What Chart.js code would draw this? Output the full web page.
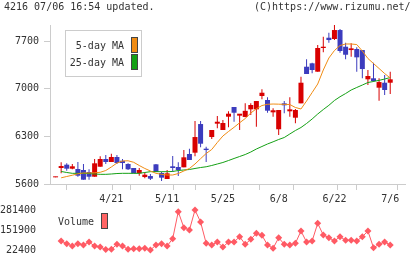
<!DOCTYPE html>
<html>
<head>
<meta charset="utf-8">
<script src="https://cdn.jsdelivr.net/npm/chart.js@4"></script>
<style>
body { margin: 0; background: #fff; }
#wrap { position: relative; width: 420px; height: 259px; overflow: hidden; font-family: "DejaVu Sans Mono", monospace; font-size: 10px; color: #333; }
canvas { position: absolute; left: 0; }
#main { top: 0; }
#vol { top: 191px; }
.t { position: absolute; white-space: nowrap; line-height: 12px; }
.box { position: absolute; box-sizing: border-box; border: 1px solid #444; }
#legend { position: absolute; left: 65px; top: 30px; width: 77px; height: 47px; box-sizing: border-box; border: 1px solid #ccc; background: #fff; }
</style>
</head>
<body>
<div id="wrap">
    <canvas id="main" width="420" height="205"></canvas>
    <canvas id="vol" width="420" height="75"></canvas>
    <div class="t" style="left:4px;top:1px">4216 07/06 16:54 updated.</div>
    <div class="t" style="left:254px;top:1px">(C)https://www.rizumu.net/</div>
    <div id="legend"></div>
    <div class="t" style="left:60px;top:40px;width:64px;text-align:right">5-day MA</div>
    <div class="t" style="left:60px;top:57px;width:64px;text-align:right">25-day MA</div>
    <div class="box" style="left:131px;top:37px;width:7px;height:16px;background:#f08c14"></div>
    <div class="box" style="left:131px;top:54px;width:7px;height:16px;background:#14a014"></div>
    <div class="t" style="left:58px;top:216px">Volume</div>
    <div class="box" style="left:101px;top:213px;width:7px;height:16px;background:#ff6464"></div>
</div>
<script>
const dates = ["4/7", "4/8", "4/9", "4/10", "4/13", "4/14", "4/15", "4/16", "4/17", "4/20",
    "4/21", "4/22", "4/23", "4/24", "4/27", "4/28", "4/30", "5/1", "5/7", "5/8",
    "5/11", "5/12", "5/13", "5/14", "5/15", "5/18", "5/19", "5/20", "5/21", "5/22",
    "5/25", "5/26", "5/27", "5/28", "5/29", "6/1", "6/2", "6/3", "6/4", "6/5",
    "6/8", "6/9", "6/10", "6/11", "6/12", "6/15", "6/16", "6/17", "6/18", "6/19",
    "6/22", "6/23", "6/24", "6/25", "6/26", "6/29", "6/30", "7/1", "7/2", "7/3", "7/6"];

const open = [5698, 5835, 5884, 5825, 5820, 5806, 5776, 5707, 5854, 5967,
    5923, 5997, 5942, 5894, 5835, 5757, 5702, 5717, 5889, 5762,
    5673, 5860, 5850, 5845, 6041, 6060, 6481, 6119, 6290, 6486,
    6393, 6589, 6731, 6604, 6585, 6697, 6697, 6893, 6834, 6653,
    6404, 6785, 6668, 6574, 6785, 7323, 7373, 7250, 7598, 7749,
    7730, 7862, 7617, 7568, 7583, 7568, 7138, 7153, 7015, 7088, 7088];
const high = [5705, 5919, 5904, 5894, 5923, 5894, 5816, 5967, 6007, 6026,
    6045, 6026, 5967, 5904, 5835, 5835, 5772, 5747, 5894, 5781,
    5806, 6011, 5919, 6099, 6119, 6525, 6525, 6148, 6393, 6599,
    6540, 6668, 6731, 6624, 6785, 6785, 6819, 6991, 6874, 6712,
    6687, 6819, 6874, 6702, 7176, 7432, 7382, 7642, 7764, 7823,
    7936, 7877, 7676, 7667, 7608, 7568, 7275, 7382, 7153, 7201, 7250];
const low = [5698, 5757, 5795, 5816, 5707, 5663, 5663, 5707, 5854, 5894,
    5923, 5894, 5816, 5806, 5757, 5722, 5684, 5659, 5776, 5644,
    5673, 5781, 5717, 5845, 5953, 6007, 6139, 5923, 6261, 6418,
    6393, 6433, 6515, 6393, 6580, 6614, 6442, 6844, 6647, 6589,
    6320, 6639, 6589, 6492, 6785, 7216, 7226, 7250, 7535, 7676,
    7715, 7529, 7432, 7470, 7250, 7153, 7054, 7103, 6824, 6907, 6922];
const close = [5705, 5864, 5825, 5860, 5722, 5663, 5707, 5904, 5967, 5923,
    5997, 5908, 5908, 5816, 5757, 5806, 5737, 5678, 5776, 5693,
    5757, 5835, 5806, 5992, 5953, 6290, 6192, 6099, 6393, 6515,
    6496, 6633, 6647, 6633, 6675, 6761, 6819, 6941, 6677, 6683,
    6687, 6756, 6697, 6687, 7088, 7216, 7275, 7598, 7617, 7715,
    7862, 7554, 7499, 7593, 7461, 7289, 7187, 7113, 7098, 6981, 7138];

const ma5 = [null, 5691, 5710, 5729, 5750, 5762, 5762, 5765, 5772, 5798,
    5850, 5908, 5938, 5941, 5919, 5872, 5828, 5791, 5757, 5742,
    5732, 5732, 5754, 5791, 5828, 5894, 5972, 6048, 6107, 6210,
    6305, 6371, 6433, 6499, 6562, 6643, 6705, 6753, 6771, 6775,
    6773, 6770, 6768, 6724, 6702, 6819, 6944, 7069, 7275, 7451,
    7561, 7635, 7657, 7657, 7649, 7554, 7444, 7370, 7297, 7223, 7157];
const ma25 = [null, 5784, 5769, 5757, 5757, 5757, 5754, 5747, 5742, 5742,
    5747, 5754, 5757, 5757, 5757, 5757, 5769, 5781, 5781, 5781,
    5781, 5784, 5798, 5806, 5813, 5828, 5842, 5853, 5872, 5894,
    5916, 5945, 5975, 6004, 6033, 6070, 6114, 6151, 6188, 6220,
    6254, 6283, 6335, 6386, 6430, 6489, 6555, 6628, 6694, 6756,
    6827, 6882, 6929, 6981, 7018, 7054, 7091, 7106, 7123, 7142, 7164];

const volume = [null, 80675, 63200, 48300, 63200, 54800, 74200, 48300, 41800, 25000,
    26700, 59300, 48300, 26700, 30800, 30800, 33400, 22400, 54800, 63200,
    48300, 95600, 270400, 166800, 151900, 281400, 203700, 65800, 54800, 74200,
    41800, 74200, 74200, 108500, 59300, 91700, 130500, 117500, 54800, 33400,
    102000, 59300, 54800, 65800, 145400, 74200, 80700, 195300, 119500, 102000,
    80700, 108500, 85200, 85200, 80700, 108500, 145400, 37000, 59300, 74200, 54800];

const priceTicks = [5600, 6300, 7000, 7700];
const volumeTicks = [22400, 151900, 281400];
const labelIndex = [10, 20, 30, 40, 50, 60];

const UP = '#d80000';
const DOWN = '#3c3cbe';
const AXIS = '#cccccc';

Chart.defaults.font.family = '"DejaVu Sans Mono", monospace';
Chart.defaults.font.size = 10;
Chart.defaults.color = '#333';

const xMin = -1;
const xMax = 62.65;
let candleColors = close.map((c, i) => c >= open[i] ? UP : DOWN);
let xy = (arr) => arr.map((v, i) => ({x: i, y: v}));

let ctx = document.getElementById('main').getContext('2d');
let chart = new Chart(ctx, {
    type: 'bar',
    data: {
        datasets: [
            {
                type: 'line', label: '5-day MA', data: xy(ma5),
                borderColor: '#f08c14', borderWidth: 1, pointRadius: 0, clip: false
            },
            {
                type: 'line', label: '25-day MA', data: xy(ma25),
                borderColor: '#14a014', borderWidth: 1, pointRadius: 0, clip: false
            },
            {
                label: 'body', data: open.map((o, i) => ({x: i, y: [o, close[i]]})),
                backgroundColor: candleColors, barThickness: 5, minBarLength: 1,
                inflateAmount: 0, grouped: false, clip: false
            },
            {
                label: 'wick', data: low.map((l, i) => ({x: i, y: [l, high[i]]})),
                backgroundColor: candleColors, barThickness: 1,
                inflateAmount: 0, grouped: false, clip: false
            }
        ]
    },
    options: {
        responsive: false,
        animation: false,
        layout: {padding: {top: 25, right: 15, left: 0, bottom: 0}},
        plugins: {legend: {display: false}, tooltip: {enabled: false}},
        scales: {
            x: {
                type: 'linear', min: xMin, max: xMax, offset: false,
                afterFit: (s) => { s.height = 21; },
                afterBuildTicks: (s) => {
                    let step = (s.max - s.min) / 11;
                    let marks = [];
                    for (let k = 0; k <= 11; k++) marks.push({value: s.min + k * step, mark: true});
                    s.ticks = marks.concat(labelIndex.map(i => ({value: i}))).sort((a, b) => a.value - b.value);
                },
                ticks: {
                    autoSkip: false, maxRotation: 0, padding: 3,
                    callback: (v, i, ticks) => ticks[i].mark ? '' : dates[v]
                },
                grid: {
                    drawOnChartArea: false, tickLength: 6, color: AXIS,
                    tickColor: (c) => c.tick && c.tick.mark ? AXIS : 'rgba(0,0,0,0)'
                },
                border: {color: AXIS}
            },
            y: {
                type: 'linear', min: 5600, max: 7936,
                afterFit: (s) => { s.width = 50; },
                afterBuildTicks: (s) => { s.ticks = priceTicks.map(v => ({value: v})); },
                ticks: {padding: 5, callback: (v) => String(v)},
                grid: {drawOnChartArea: false, tickLength: 6, color: AXIS},
                border: {color: AXIS}
            }
        }
    }
});

// volume panel: chart area spans page y 205..252
let vctx = document.getElementById('vol').getContext('2d');
let volChart = new Chart(vctx, {
    type: 'line',
    data: {
        datasets: [
            {
                label: 'Volume', data: xy(volume),
                borderColor: '#ff5a64', backgroundColor: '#ff5a64', borderWidth: 1,
                pointStyle: 'rectRot', pointRadius: 3.5, pointBorderWidth: 0, clip: false
            }
        ]
    },
    options: {
        responsive: false,
        animation: false,
        layout: {padding: {top: 14, right: 15, left: 0, bottom: 14}},
        plugins: {legend: {display: false}, tooltip: {enabled: false}},
        scales: {
            x: {type: 'linear', min: xMin, max: xMax, display: false},
            y: {
                type: 'linear', min: 9450, max: 313775,
                afterFit: (s) => { s.width = 50; },
                afterBuildTicks: (s) => { s.ticks = volumeTicks.map(v => ({value: v})); },
                ticks: {padding: 6, callback: (v) => String(v)},
                grid: {display: false},
                border: {display: false}
            }
        }
    }
});
</script>
</body>
</html>
